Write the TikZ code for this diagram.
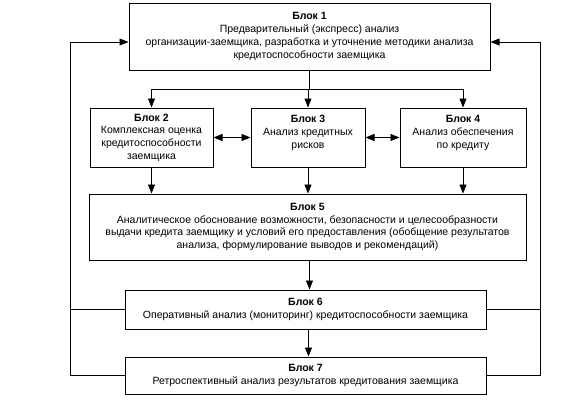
\documentclass[tikz,border=0pt]{standalone}
\usepackage{fontspec}
\setmainfont{Liberation Sans}
\usetikzlibrary{arrows.meta}
\tikzset{
  blk/.style={draw, line width=1pt, align=center, inner sep=0pt,
    font=\fontsize{10.5}{12.7}\selectfont},
  arr/.style={line width=0.6pt, -{Triangle[length=9pt,width=7pt]}},
  darr/.style={line width=0.6pt, {Triangle[length=9pt,width=7pt]}-{Triangle[length=9pt,width=7pt]}},
  ln/.style={line width=0.6pt},
}
\begin{document}
\begin{tikzpicture}[x=1pt,y=-1pt]
\useasboundingbox (0,0) rectangle (586,402);
\node[blk, minimum width=361pt, minimum height=67pt] (b1) at (309.5,36.5)
  {\textbf{Блок 1}\\Предварительный (экспресс) анализ\\организации-заемщика, разработка и уточнение методики анализа\\кредитоспособности заемщика};
\node[blk, minimum width=123pt, minimum height=59pt] (b2) at (151.5,137.5)
  {\textbf{Блок 2}\\Комплексная оценка\\кредитоспособности\\заемщика};
\node[blk, minimum width=114pt, minimum height=59pt] (b3) at (308,137.5)
  {\textbf{Блок 3}\\Анализ кредитных\\рисков\\[-5pt]\strut};
\node[blk, minimum width=126pt, minimum height=59pt] (b4) at (463,137.5)
  {\textbf{Блок 4}\\Анализ обеспечения\\по кредиту\\[-5pt]\strut};
\node[blk, minimum width=437pt, minimum height=66pt] (b5) at (307.5,227)
  {\textbf{Блок 5}\\Аналитическое обоснование возможности, безопасности и целесообразности\\выдачи кредита заемщику и условий его предоставления (обобщение результатов\\анализа, формулирование выводов и рекомендаций)};
\node[blk, minimum width=361pt, minimum height=39pt] (b6) at (305.5,309.5)
  {\textbf{Блок 6}\\Оперативный анализ (мониторинг) кредитоспособности заемщика};
\node[blk, minimum width=361pt, minimum height=37pt] (b7) at (305.5,375.5)
  {\textbf{Блок 7}\\Ретроспективный анализ результатов кредитования заемщика};
\coordinate (j) at (309.5,89);
\coordinate (L) at (70,0);
\coordinate (R) at (540,0);
\coordinate (t1) at ([yshift=-5.5pt]b1.west);
\coordinate (t2) at ([yshift=-5.5pt]b1.east);
\draw[ln] (b1.south) -- (j);
\draw[arr] (j) -| (b2.north);
\draw[arr] (j) -| (b4.north);
\draw[arr] (b3.north |- j) -- (b3.north);
\draw[darr] (b2.east) -- (b3.west);
\draw[darr] (b3.east) -- (b4.west);
\draw[arr] (b2.south) -- (b2.south |- b5.north);
\draw[arr] (b3.south) -- (b3.south |- b5.north);
\draw[arr] (b4.south) -- (b4.south |- b5.north);
\draw[arr] ([xshift=2pt]b5.south) -- ([xshift=2pt]b5.south |- b6.north);
\draw[arr] ([xshift=3pt]b6.south) -- ([xshift=3pt]b6.south |- b7.north);
\draw[arr] (b7.west) -| (L |- t1) -- (t1);
\draw[ln] (b6.west) -- (b6.west -| L);
\draw[arr] (b7.east) -| (R |- t2) -- (t2);
\draw[ln] (b6.east) -- (b6.east -| R);
\end{tikzpicture}
\end{document}
